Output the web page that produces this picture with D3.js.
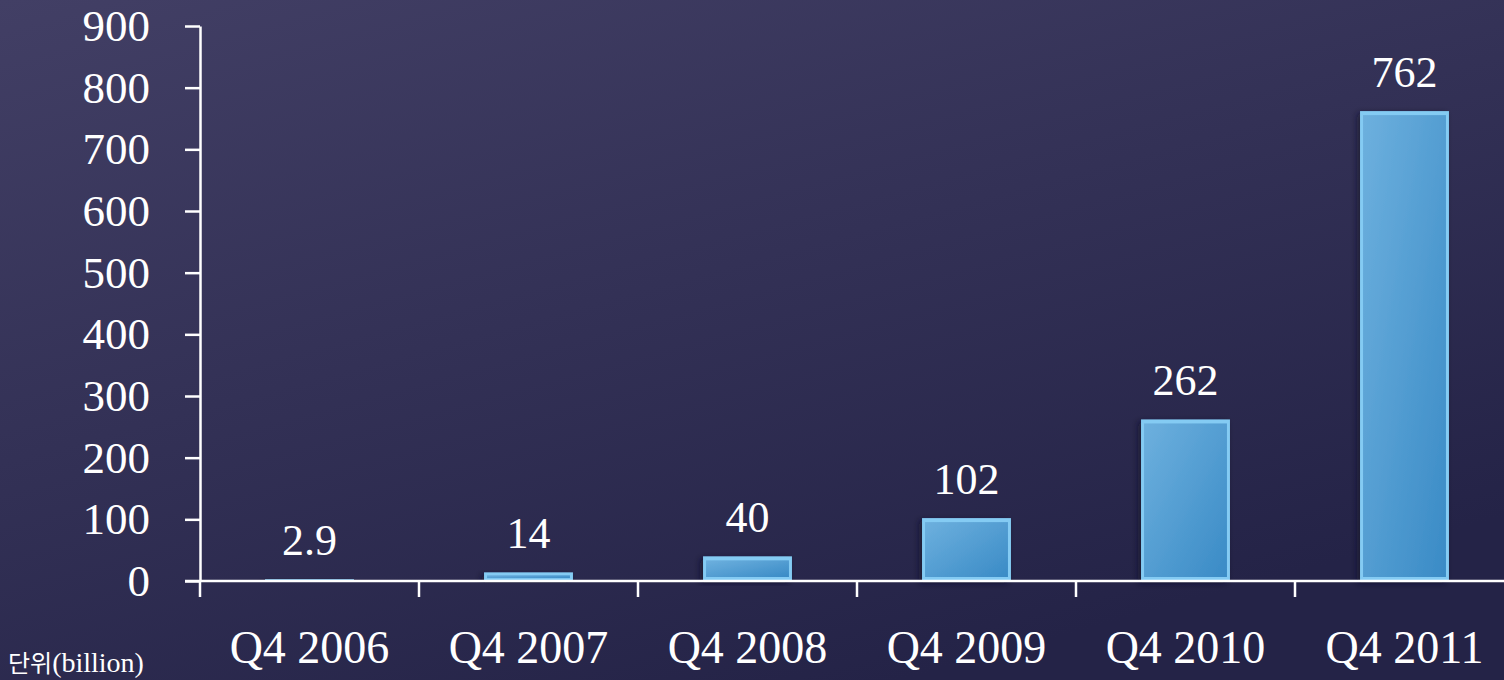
<!DOCTYPE html>
<html>
<head>
<meta charset="utf-8">
<script src="https://cdn.jsdelivr.net/npm/d3@7"></script>
<style>
  html, body { margin: 0; padding: 0; background: #2b2a4e; }
  svg { display: block; }
</style>
</head>
<body>
<svg id="chart"></svg>
<script>
// data
var quarters = ["Q4 2006", "Q4 2007", "Q4 2008", "Q4 2009", "Q4 2010", "Q4 2011"];
var values = [2.9, 14, 40, 102, 262, 762];
var valueLabels = ["2.9", "14", "40", "102", "262", "762"];
var yTicks = [0, 100, 200, 300, 400, 500, 600, 700, 800, 900];
var unitLabel = "(billion)";

var width = 1504, height = 680;
var svg = d3.select("#chart").attr("width", width).attr("height", height);
var defs = svg.append("defs");

// background
var bg = defs.append("linearGradient").attr("id", "bg")
    .attr("x1", "0%").attr("y1", "0%").attr("x2", "60%").attr("y2", "100%");
bg.append("stop").attr("offset", "0%").attr("stop-color", "#423f65");
bg.append("stop").attr("offset", "100%").attr("stop-color", "#242347");
svg.append("rect").attr("width", width).attr("height", height).attr("fill", "url(#bg)");

// bar gradient
var bar = defs.append("linearGradient").attr("id", "barFill")
    .attr("x1", "0%").attr("y1", "0%").attr("x2", "100%").attr("y2", "100%");
bar.append("stop").attr("offset", "0%").attr("stop-color", "#6db0de");
bar.append("stop").attr("offset", "100%").attr("stop-color", "#3a8bc6");

var shadow = defs.append("filter").attr("id", "shadow")
    .attr("x", "-20%").attr("y", "-20%").attr("width", "140%").attr("height", "140%");
shadow.append("feDropShadow").attr("dx", -3).attr("dy", 2).attr("stdDeviation", 3)
    .attr("flood-color", "#111028").attr("flood-opacity", 0.6);

var x = d3.scaleBand().domain(quarters).range([200, 1514])
    .paddingInner(0.594).paddingOuter(0.297);
var y = d3.scaleLinear().domain([0, 900]).range([581, 26]);

var serif = "'Liberation Serif', 'DejaVu Serif', serif";

// bars
var bars = svg.append("g").selectAll("g").data(values).join("g")
    .attr("filter", "url(#shadow)");
bars.append("rect")
    .attr("x", function(d, i) { return x(quarters[i]); })
    .attr("y", function(d) { return y(d); })
    .attr("width", x.bandwidth())
    .attr("height", function(d) { return y(0) - y(d); })
    .attr("fill", "#84cbf3");
bars.append("rect")
    .attr("x", function(d, i) { return x(quarters[i]) + 3; })
    .attr("y", function(d) { return y(d) + Math.min(4, (y(0) - y(d)) / 3); })
    .attr("width", x.bandwidth() - 6)
    .attr("height", function(d) { return Math.max(0, y(0) - y(d) - Math.min(4, (y(0) - y(d)) / 3) * 2); })
    .attr("fill", "url(#barFill)");

// value labels
svg.append("g").selectAll("text").data(values).join("text")
    .attr("x", function(d, i) { return x(quarters[i]) + x.bandwidth() / 2; })
    .attr("y", function(d) { return y(d) - 24; })
    .attr("text-anchor", "middle")
    .attr("fill", "#ffffff")
    .style("font-family", serif)
    .style("font-size", "44px")
    .text(function(d, i) { return valueLabels[i]; });

// y axis
var yAxis = svg.append("g").attr("transform", "translate(200,0)")
    .call(d3.axisLeft(y).tickValues(yTicks).tickSize(15).tickSizeOuter(0).tickPadding(35));
yAxis.selectAll("line, path").attr("stroke", "#ffffff").attr("stroke-width", 2.5);
yAxis.selectAll("text").attr("fill", "#ffffff")
    .style("font-family", serif).style("font-size", "45px");

// x axis
var xAxis = svg.append("g").attr("transform", "translate(0," + y(0) + ")")
    .call(d3.axisBottom(x).tickSize(0).tickSizeOuter(0).tickPadding(49));
xAxis.select(".domain").remove();
xAxis.selectAll("text").attr("fill", "#ffffff")
    .style("font-family", serif).style("font-size", "46px");
xAxis.append("line").attr("x1", 185).attr("x2", width).attr("y1", 0).attr("y2", 0)
    .attr("stroke", "#ffffff").attr("stroke-width", 2.5);
var bounds = quarters.map(function(q) { return x(q) - x.step() * x.paddingInner() / 2; });
xAxis.selectAll(".bound").data(bounds).join("line").attr("class", "bound")
    .attr("x1", function(d) { return d; }).attr("x2", function(d) { return d; })
    .attr("y1", 0).attr("y2", 16)
    .attr("stroke", "#ffffff").attr("stroke-width", 2.5);

// unit label
var unit = svg.append("text").attr("x", 8).attr("y", 672).attr("fill", "#ffffff");
unit.append("tspan").style("font-family", "'Noto Sans CJK KR', sans-serif")
    .style("font-size", "24px").text("단위");
unit.append("tspan").style("font-family", serif)
    .style("font-size", "28px").text(unitLabel);
</script>
</body>
</html>
